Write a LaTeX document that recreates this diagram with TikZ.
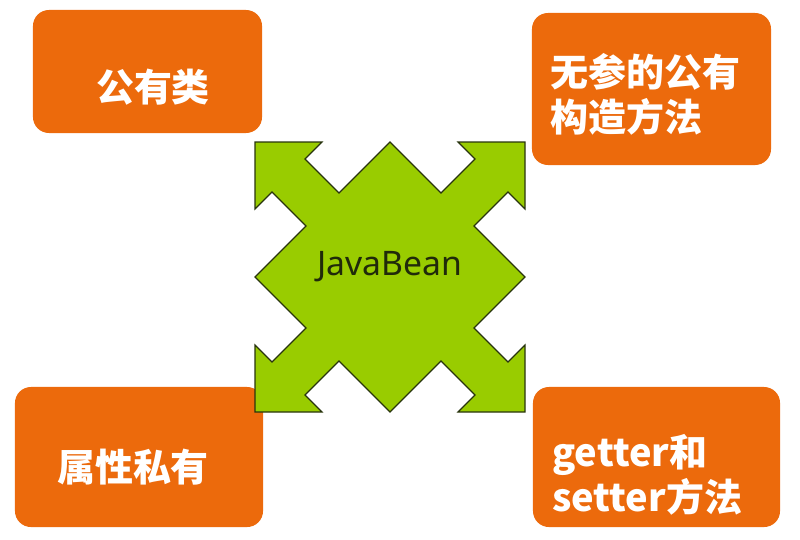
\documentclass[tikz,border=0pt]{standalone}
\usepackage{fontspec}
\newfontfamily\cjk{Noto Sans CJK SC}
\newfontfamily\beanfont{Noto Sans}
\usepackage{tikz}
\usetikzlibrary{positioning}
\definecolor{boxorange}{RGB}{236,106,12}
\definecolor{beangreen}{RGB}{153,204,0}
\definecolor{beanline}{RGB}{40,52,14}
\definecolor{beantext}{RGB}{32,42,10}
\tikzset{
  box/.style={fill=boxorange, rounded corners=0.4cm, inner sep=0pt},
  boxtext/.style={text=white, font=\cjk\bfseries\fontsize{27}{32}\selectfont, inner sep=0pt, align=left},
  beanstar/.style={fill=beangreen, draw=beanline, line width=0.8pt, line join=miter}
}

\begin{document}
\begin{tikzpicture}[x=0.025cm, y=-0.025cm]
        \useasboundingbox (0,0) rectangle (800,539);
        % the four corner boxes
        \node[box, minimum width=5.725cm, minimum height=3.075cm] (pub) at (147.5,71.5) {};
        \node[box, minimum width=5.975cm, minimum height=3.8cm] (ctor) at (651.5,89) {};
        \node[box, minimum width=6.2cm, minimum height=3.5cm] (priv) at (139,457) {};
        \node[box, minimum width=6.175cm, minimum height=3.5cm] (access) at (656.5,457) {};
        \node[boxtext] (pubtext) at (153,87) {公有类};
        \node[boxtext, anchor=west] (ctortext) at (550,94.5) {无参的公有\\构造方法};
        \node[boxtext] (privtext) at (133,467) {属性私有};
        \node[boxtext, anchor=west] (accesstext) at (552,475) {getter和\\setter方法};
        % the green four-way arrow
        \begin{scope}[shift={(390,277)}]
        \draw[beanstar] (-135,0) -- (-84,-51) -- (-118,-85) -- (-135,-68) -- (-135,-135)
              -- (-68,-135) -- (-85,-118) -- (-51,-84) -- (0,-135)
              -- (51,-84) -- (85,-118) -- (68,-135) -- (135,-135)
              -- (135,-68) -- (118,-85) -- (84,-51) -- (135,0)
              -- (84,51) -- (118,85) -- (135,68) -- (135,135)
              -- (68,135) -- (85,118) -- (51,84) -- (0,135)
              -- (-51,84) -- (-85,118) -- (-68,135) -- (-135,135)
              -- (-135,68) -- (-118,85) -- (-84,51) -- cycle;
        \end{scope}
        \node[text=beantext, font=\beanfont\fontsize{24}{28}\selectfont, inner sep=0pt] (bean) at (390,267) {JavaBean};
\end{tikzpicture}
\end{document}
